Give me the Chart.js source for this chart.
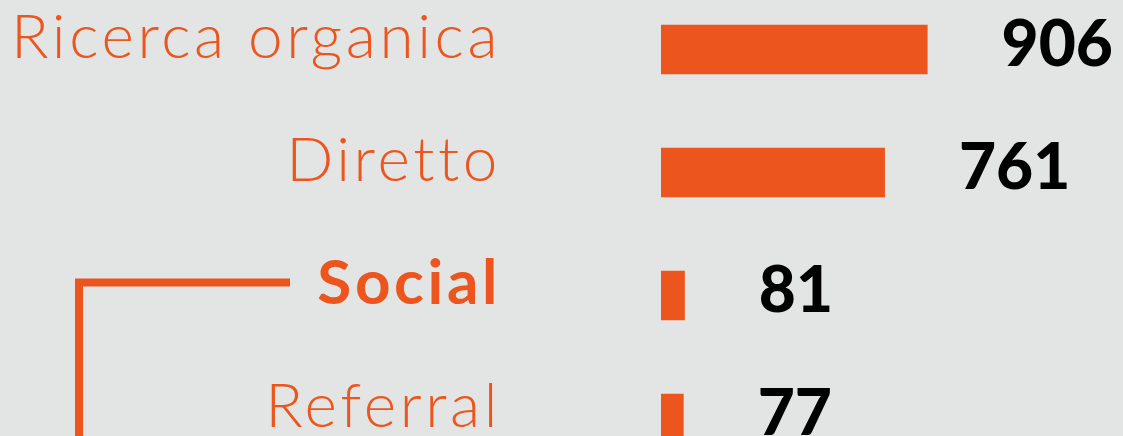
<!DOCTYPE html>
<html>
<head>
<meta charset="utf-8">
<script src="https://cdn.jsdelivr.net/npm/chart.js@4"></script>
<style>
  html, body { margin: 0; padding: 0; overflow: hidden; background: #e3e5e4; }
  #wrap { position: relative; width: 1123px; height: 436px; overflow: hidden; }
  #traffic { position: absolute; left: 0; top: -12px; }
</style>
</head>
<body>
<div id="wrap"><canvas id="traffic" width="1123" height="492"></canvas></div>
<script>
// Traffic sources and visit counts
const sources = ['Ricerca organica', 'Diretto', 'Social', 'Referral'];
const visits = [906, 761, 81, 77];
const highlighted = 'Social';

const orange = '#ec561e';

// wider tracking for the category names
const tracking = {
  id: 'tracking',
  beforeDraw(chart) { chart.ctx.letterSpacing = '3.6px'; },
  afterDraw(chart) { chart.ctx.letterSpacing = '0px'; }
};

// value text right of each bar
const valueLabels = {
  id: 'valueLabels',
  afterDatasetsDraw(chart) {
    const ctx = chart.ctx;
    const meta = chart.getDatasetMeta(0);
    ctx.save();
    ctx.letterSpacing = '0px';
    ctx.font = '900 64px Lato';
    ctx.fillStyle = '#000';
    ctx.textAlign = 'left';
    ctx.textBaseline = 'middle';
    meta.data.forEach((bar, i) => {
      ctx.fillText(String(visits[i]), bar.x + 74, bar.y - 4);
    });
    ctx.restore();
  }
};

// bracket line leading to the highlighted label
const bracket = {
  id: 'bracket',
  afterDraw(chart) {
    const ctx = chart.ctx;
    const y = chart.scales.y.getPixelForValue(sources.indexOf(highlighted)) - 13;
    ctx.save();
    ctx.strokeStyle = orange;
    ctx.lineWidth = 8;
    ctx.lineCap = 'butt';
    ctx.beginPath();
    ctx.moveTo(290, y);
    ctx.lineTo(79, y);
    ctx.lineTo(79, chart.height);
    ctx.stroke();
    ctx.restore();
  }
};

new Chart(document.getElementById('traffic'), {
  type: 'bar',
  data: {
    labels: sources,
    datasets: [{
      data: visits,
      backgroundColor: orange,
      borderWidth: 0,
      categoryPercentage: 1,
      barPercentage: 0.404
    }]
  },
  options: {
    indexAxis: 'y',
    responsive: false,
    animation: false,
    layout: { padding: 0 },
    plugins: {
      legend: { display: false },
      tooltip: { enabled: false }
    },
    scales: {
      x: {
        display: false,
        min: 0,
        max: 1570
      },
      y: {
        afterFit(scale) {
          scale.width = 661;
          scale.paddingTop = 0;
          scale.paddingBottom = 0;
        },
        grid: { display: false, drawTicks: false },
        border: { display: false },
        ticks: {
          color: orange,
          padding: 160,
          labelOffset: -12,
          font: (c) => c.tick && c.tick.label === highlighted
            ? { family: 'Lato', size: 62, weight: 700 }
            : { family: 'Lato', size: 62, weight: 300 }
        }
      }
    }
  },
  plugins: [tracking, valueLabels, bracket]
});
</script>
</body>
</html>
